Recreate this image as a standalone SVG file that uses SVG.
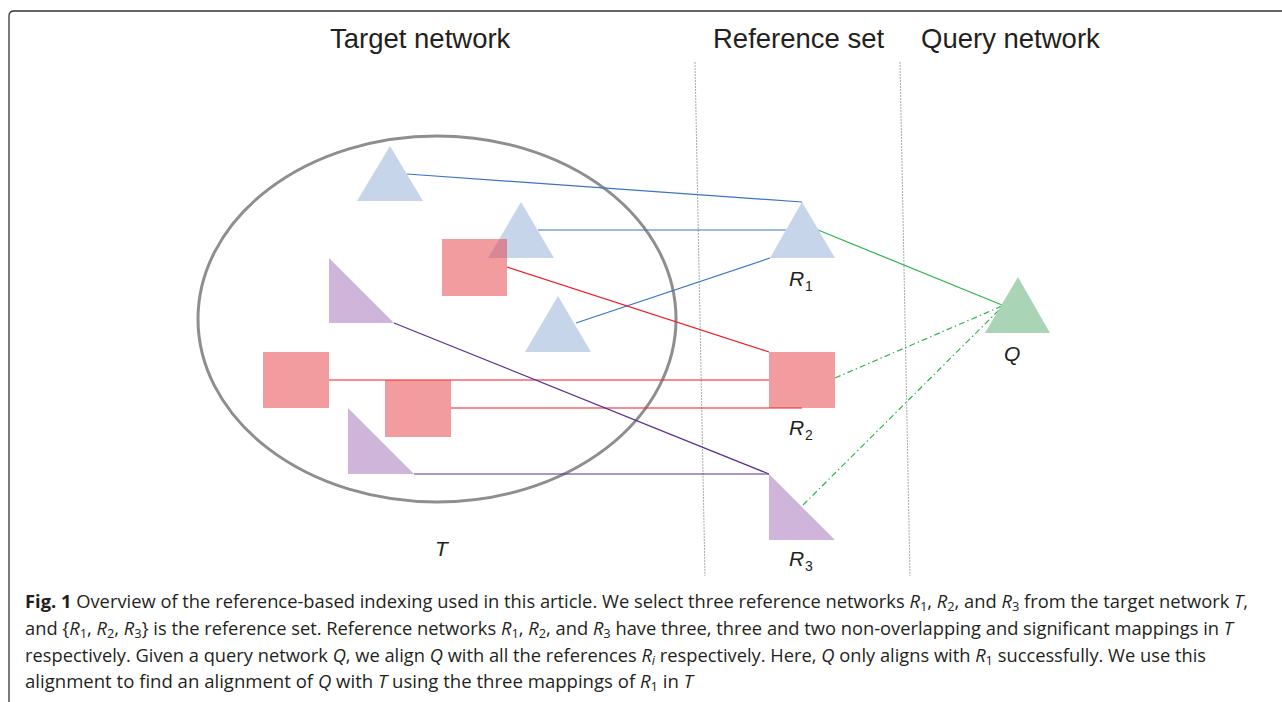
<svg xmlns="http://www.w3.org/2000/svg" width="1282" height="702" viewBox="0 0 1282 702">
  <style>
    .title { font-family: "Liberation Sans", Arial, sans-serif; font-size: 27.5px; fill: #231f20; }
    .lbl { font-family: "Liberation Sans", Arial, sans-serif; font-size: 21px; font-style: italic; fill: #231f20; }
    .lsub { font-family: "Liberation Sans", Arial, sans-serif; font-size: 14px; font-style: normal; fill: #231f20; }
    .cap { font-family: "Open Sans", "Noto Sans", sans-serif; font-size: 18.5px; fill: #231f20; }
    .cap .b { font-weight: bold; }
    .cap .i { font-style: italic; }
    .cap .s { font-size: 13px; }
    .blue { fill: #c6d5ea; }
    .red { fill: #e8393f; fill-opacity: 0.5; }
    .purple { fill: #cfb5d9; }
    .green { fill: #a9d5b6; }
    .cb { stroke: #3c74c2; stroke-width: 1.2; fill: none; }
    .cr { stroke: #ec1c24; stroke-width: 1.2; fill: none; }
    .cp { stroke: #5b2e92; stroke-width: 1.2; fill: none; }
    .cg { stroke: #2eb34b; stroke-width: 1.2; fill: none; }
    .cgd { stroke: #2eb34b; stroke-width: 1.2; fill: none; stroke-dasharray: 6 3 1.5 3; }
    .sep { stroke: #a9a9a9; stroke-width: 1; stroke-dasharray: 2 1; fill: none; }
  </style>

  <rect width="1282" height="702" fill="#ffffff"/>

  <!-- frame: top and left rules with rounded corner -->
  <path d="M 9 702 L 9 16 Q 9 11 14 11 L 1282 11" fill="none" stroke="#333333" stroke-width="1.3"/>

  <!-- column titles -->
  <text class="title" x="330" y="48">Target network</text>
  <text class="title" x="713" y="48">Reference set</text>
  <text class="title" x="921" y="48">Query network</text>

  <!-- column separators -->
  <line class="sep" x1="695" y1="62" x2="705" y2="576"/>
  <line class="sep" x1="900" y1="62" x2="910" y2="576"/>

  <!-- target network boundary -->
  <g id="target-network">
    <ellipse cx="437" cy="319" rx="239" ry="183" fill="none" stroke="#8e8e8e" stroke-width="3"/>
    <text class="lbl" x="435" y="556">T</text>
  </g>

  <!-- mappings and alignments -->
  <g id="connectors">
    <line class="cb" x1="407" y1="174" x2="802" y2="202"/>
    <line class="cb" x1="538" y1="230" x2="786" y2="230"/>
    <line class="cb" x1="576" y1="323" x2="770" y2="258"/>
    <line class="cr" x1="507" y1="267" x2="769" y2="352"/>
    <line class="cr" x1="329" y1="380" x2="769" y2="380"/>
    <line class="cr" x1="451" y1="408" x2="802" y2="408"/>
    <line class="cp" x1="394" y1="323" x2="769" y2="474"/>
    <line class="cp" x1="414" y1="474" x2="769" y2="474"/>
    <line class="cg" x1="818" y1="230" x2="1002" y2="305"/>
    <line class="cgd" x1="835" y1="378" x2="1002" y2="306"/>
    <line class="cgd" x1="803" y1="505" x2="999" y2="310"/>
  </g>

  <!-- nodes inside the target network -->
  <g id="t-tri-1"><polygon class="blue" points="390,146 423,201 357,201"/></g>
  <g id="t-tri-2"><polygon class="blue" points="521,202 554,258 488,258"/></g>
  <g id="t-tri-3"><polygon class="blue" points="558,296 591,352 525,352"/></g>
  <g id="t-sq-1"><rect class="red" x="442" y="239" width="65" height="57"/></g>
  <g id="t-sq-2"><rect class="red" x="263" y="352" width="66" height="56"/></g>
  <g id="t-sq-3"><rect class="red" x="385" y="380" width="66" height="57"/></g>
  <g id="t-rt-1"><polygon class="purple" points="329,258 394,323 329,323"/></g>
  <g id="t-rt-2"><polygon class="purple" points="348,408 414,474 348,474"/></g>

  <!-- reference set -->
  <g id="ref-r1">
    <polygon class="blue" points="802,202 835,258 770,258"/>
    <text class="lbl" x="789" y="286">R</text>
    <text class="lsub" x="805" y="291">1</text>
  </g>
  <g id="ref-r2">
    <rect class="red" x="769" y="352" width="66" height="56"/>
    <text class="lbl" x="789" y="435">R</text>
    <text class="lsub" x="805" y="440">2</text>
  </g>
  <g id="ref-r3">
    <polygon class="purple" points="769,474 835,540 769,540"/>
    <text class="lbl" x="789" y="566">R</text>
    <text class="lsub" x="805" y="571">3</text>
  </g>

  <!-- query network -->
  <g id="query-q">
    <polygon class="green" points="1018,277 1050,333 985,333"/>
    <text class="lbl" x="1004" y="361">Q</text>
  </g>

  <!-- caption -->
  <g id="caption">
    <text class="cap" x="25" y="608" textLength="1223" lengthAdjust="spacingAndGlyphs"><tspan class="b">Fig. 1</tspan> Overview of the reference-based indexing used in this article. We select three reference networks <tspan class="i">R</tspan><tspan class="s" dy="3">1</tspan><tspan dy="-3">, </tspan><tspan class="i">R</tspan><tspan class="s" dy="3">2</tspan><tspan dy="-3">, and </tspan><tspan class="i">R</tspan><tspan class="s" dy="3">3</tspan><tspan dy="-3"> from the target network </tspan><tspan class="i">T</tspan>,</text>
    <text class="cap" x="25" y="635" textLength="1208" lengthAdjust="spacingAndGlyphs">and {<tspan class="i">R</tspan><tspan class="s" dy="3">1</tspan><tspan dy="-3">, </tspan><tspan class="i">R</tspan><tspan class="s" dy="3">2</tspan><tspan dy="-3">, </tspan><tspan class="i">R</tspan><tspan class="s" dy="3">3</tspan><tspan dy="-3">} is the reference set. Reference networks </tspan><tspan class="i">R</tspan><tspan class="s" dy="3">1</tspan><tspan dy="-3">, </tspan><tspan class="i">R</tspan><tspan class="s" dy="3">2</tspan><tspan dy="-3">, and </tspan><tspan class="i">R</tspan><tspan class="s" dy="3">3</tspan><tspan dy="-3"> have three, three and two non-overlapping and significant mappings in </tspan><tspan class="i">T</tspan></text>
    <text class="cap" x="25" y="662" textLength="1181" lengthAdjust="spacingAndGlyphs">respectively. Given a query network <tspan class="i">Q</tspan>, we align <tspan class="i">Q</tspan> with all the references <tspan class="i">R</tspan><tspan class="s i" dy="3">i</tspan><tspan dy="-3"> respectively. Here, </tspan><tspan class="i">Q</tspan> only aligns with <tspan class="i">R</tspan><tspan class="s" dy="3">1</tspan><tspan dy="-3">  successfully. We use this</tspan></text>
    <text class="cap" x="25" y="688" textLength="668" lengthAdjust="spacingAndGlyphs">alignment to find an alignment of <tspan class="i">Q</tspan> with <tspan class="i">T</tspan> using the three mappings of <tspan class="i">R</tspan><tspan class="s" dy="3">1</tspan><tspan dy="-3">  in </tspan><tspan class="i">T</tspan></text>
  </g>
</svg>
